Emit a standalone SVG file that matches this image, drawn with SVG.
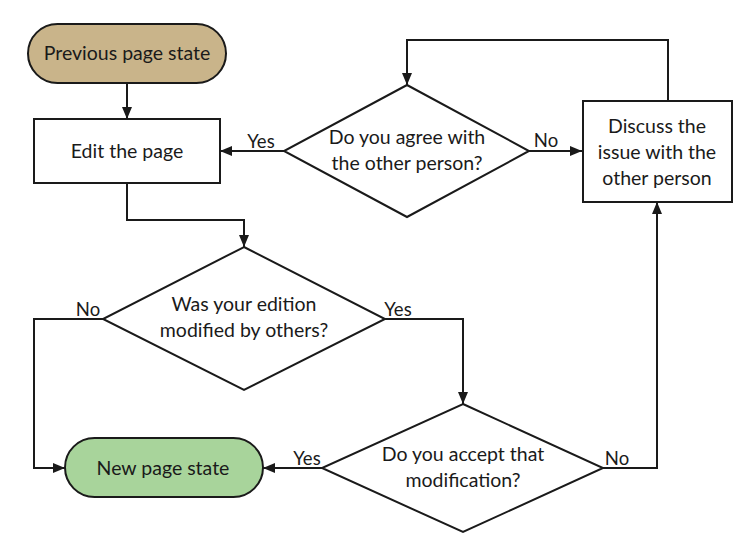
<svg xmlns="http://www.w3.org/2000/svg" width="747" height="550" viewBox="0 0 747 550">
<defs>
<marker id="arr" markerWidth="12" markerHeight="10" refX="12" refY="5" orient="auto" markerUnits="userSpaceOnUse">
<path d="M0,0 L12,5 L0,10 Z" fill="#1a1a1a"/>
</marker>
<style>
.shape{stroke:#1a1a1a;stroke-width:2;}
.t{font-family:Lato,"Open Sans","Liberation Sans",sans-serif;font-size:19.5px;fill:#1a1a1a;text-anchor:middle;}
.lbl{font-family:Lato,"Open Sans","Liberation Sans",sans-serif;font-size:18.5px;fill:#1a1a1a;text-anchor:middle;}
.c{fill:none;stroke:#1a1a1a;stroke-width:2;marker-end:url(#arr);}
</style>
</defs>
<rect width="747" height="550" fill="#ffffff"/>
<g id="connectors">
<path class="c" d="M127,83 L127,119"/>
<path class="c" d="M284,151 L220,151"/>
<path class="c" d="M529,151 L582,151"/>
<path class="c" d="M668,101 L668,40 L407,40 L407,85"/>
<path class="c" d="M127,183 L127,220 L244,220 L244,247"/>
<path class="c" d="M103,319 L34,319 L34,468 L65,468"/>
<path class="c" d="M385,319 L463,319 L463,404"/>
<path class="c" d="M322,468 L263,468"/>
<path class="c" d="M603,468 L657,468 L657,202"/>
<text class="lbl" x="261" y="148">Yes</text>
<text class="lbl" x="546" y="147">No</text>
<text class="lbl" x="88" y="316">No</text>
<text class="lbl" x="398" y="316">Yes</text>
<text class="lbl" x="307" y="465">Yes</text>
<text class="lbl" x="617" y="465">No</text>
</g>
<g id="prev">
<rect class="shape" x="28" y="24" width="198" height="59" rx="29.5" fill="#C9B48A"/>
<text class="t" x="127" y="60">Previous page state</text>
</g>
<g id="edit">
<rect class="shape" x="34" y="119" width="186" height="64" fill="#ffffff"/>
<text class="t" x="127" y="158">Edit the page</text>
</g>
<g id="agree">
<polygon class="shape" points="407,85 529,151 407,217 284,151" fill="#ffffff"/>
<text class="t" x="407" y="144">Do you agree with</text>
<text class="t" x="407" y="170">the other person?</text>
</g>
<g id="discuss">
<rect class="shape" x="583" y="101" width="149" height="101" fill="#ffffff"/>
<text class="t" x="657" y="133">Discuss the</text>
<text class="t" x="657" y="159">issue with the</text>
<text class="t" x="657" y="185">other person</text>
</g>
<g id="modified">
<polygon class="shape" points="244,247 385,319 244,390 103,319" fill="#ffffff"/>
<text class="t" x="244" y="311">Was your edition</text>
<text class="t" x="244" y="337">modified by others?</text>
</g>
<g id="newstate">
<rect class="shape" x="65" y="438" width="198" height="59" rx="29.5" fill="#A8D49B"/>
<text class="t" x="163" y="474.5">New page state</text>
</g>
<g id="accept">
<polygon class="shape" points="463,404 603,468 463,532 322,468" fill="#ffffff"/>
<text class="t" x="463" y="461">Do you accept that</text>
<text class="t" x="463" y="487">modification?</text>
</g>
</svg>
